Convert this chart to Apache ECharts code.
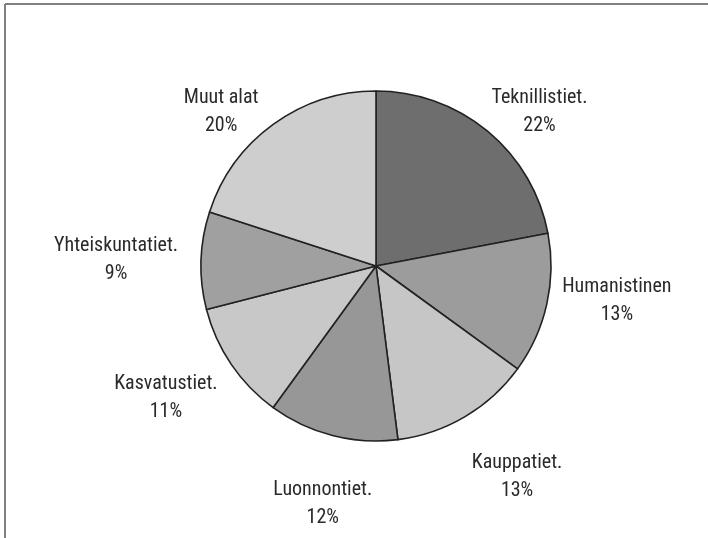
<!DOCTYPE html>
<html>
<head>
<meta charset="utf-8"/>
<style>
html,body{margin:0;padding:0;background:#fff;}
#main{width:708px;height:538px;}
</style>
</head>
<body>
<div id="main"></div>
<script src="https://cdn.jsdelivr.net/npm/echarts@6/dist/echarts.min.js"></script>
<script>
// alat ja osuudet (%), myötäpäivään klo 12:sta
var alat = ['Teknillistiet.', 'Humanistinen', 'Kauppatiet.', 'Luonnontiet.', 'Kasvatustiet.', 'Yhteiskuntatiet.', 'Muut alat'];
var osuudet = [22, 13, 13, 12, 11, 9, 20];
var harmaat = ['#6e6e6e', '#9c9c9c', '#c6c6c6', '#979797', '#c8c8c8', '#a0a0a0', '#cecece'];
// pieni käsin tehty siirto nimiöille (px)
var siirtoX = [-12, -9, -6, 46, 7, 2, 0];
var siirtoY = [0, -9, 39, 44, 20, 0, 8];

var myChart = echarts.init(document.getElementById('main'));

var data = [];
for (var i = 0; i < alat.length; i++) {
    data.push({ name: alat[i], value: osuudet[i], itemStyle: { color: harmaat[i] } });
}

var option = {
    backgroundColor: '#fff',
    animation: false,
    graphic: [
        { type: 'line', shape: { x1: 5, y1: 4, x2: 708, y2: 4 }, style: { stroke: '#808080', lineWidth: 2 } },
        { type: 'line', shape: { x1: 5, y1: 4, x2: 5, y2: 538 }, style: { stroke: '#808080', lineWidth: 2 } }
    ],
    series: [{
        type: 'pie',
        center: [376, 266],
        radius: 175,
        startAngle: 90,
        clockwise: true,
        avoidLabelOverlap: false,
        itemStyle: { borderColor: '#222', borderWidth: 1.6 },
        label: {
            show: true,
            position: 'outside',
            formatter: '{b}\n{c}%',
            fontFamily: 'Liberation Sans Narrow, Roboto Condensed, DejaVu Sans Condensed, sans-serif',
            fontSize: 20,
            lineHeight: 28,
            color: '#2a2a2a',
            distanceToLabelLine: 0
        },
        labelLine: { show: false, length: 25, length2: 0 },
        labelLayout: function (p) {
            var s = p.align === 'right' ? -1 : 1;
            return {
                align: 'center',
                verticalAlign: 'middle',
                dx: s * p.labelRect.width / 2 + siirtoX[p.dataIndex],
                dy: siirtoY[p.dataIndex]
            };
        },
        emphasis: { disabled: true },
        data: data
    }]
};

myChart.setOption(option);
</script>
</body>
</html>
